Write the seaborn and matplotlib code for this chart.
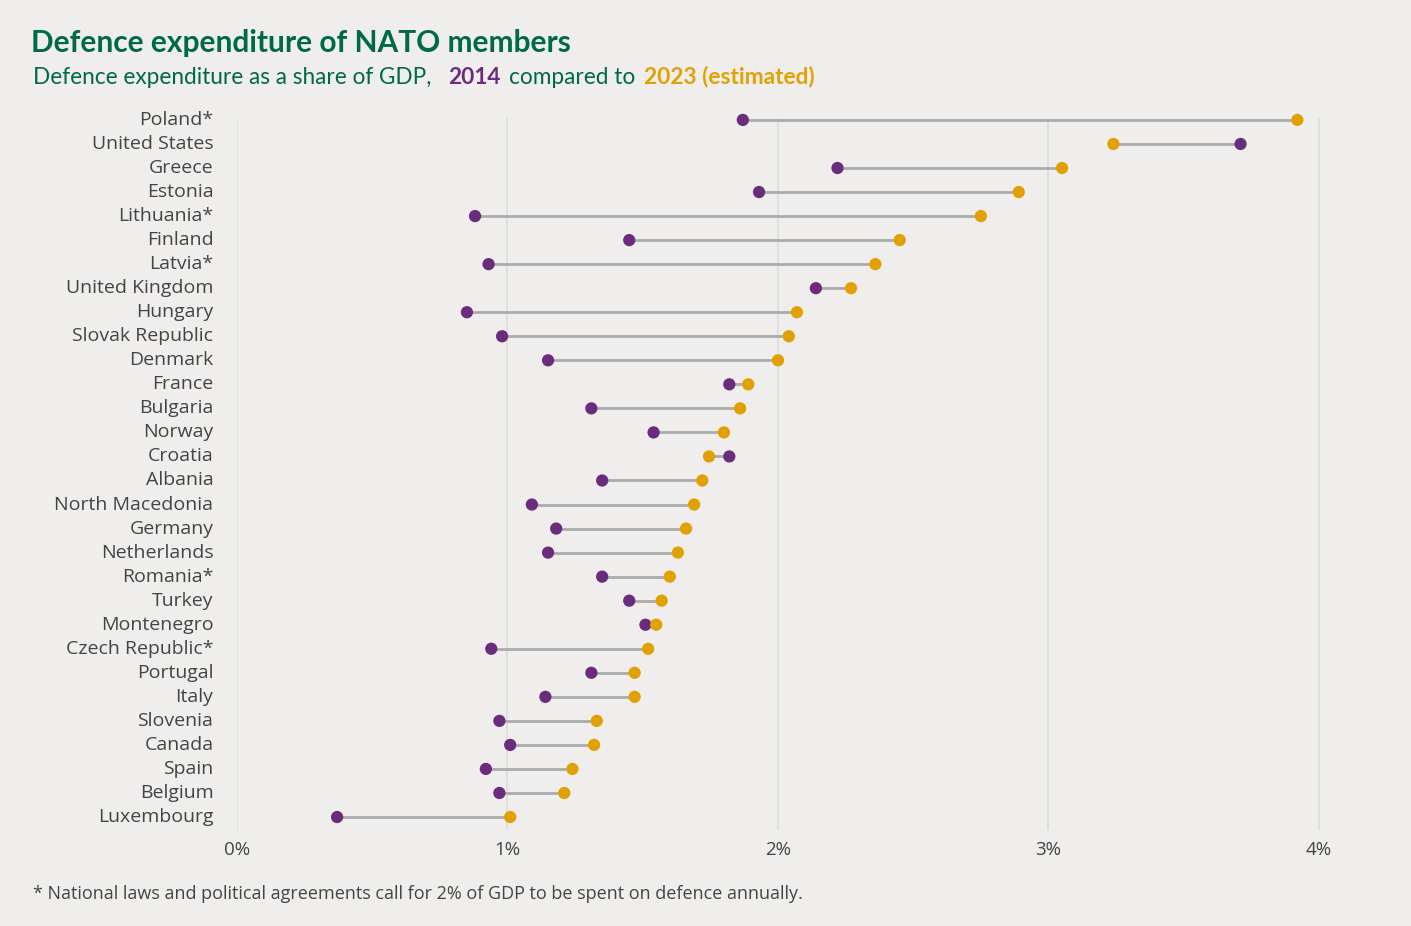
import matplotlib
matplotlib.use("Agg")
import matplotlib.pyplot as plt
import seaborn as sns
import pandas as pd

countries = ["Poland*", "United States", "Greece", "Estonia", "Lithuania*", "Finland",
             "Latvia*", "United Kingdom", "Hungary", "Slovak Republic", "Denmark", "France",
             "Bulgaria", "Norway", "Croatia", "Albania", "North Macedonia", "Germany",
             "Netherlands", "Romania*", "Turkey", "Montenegro", "Czech Republic*", "Portugal",
             "Italy", "Slovenia", "Canada", "Spain", "Belgium", "Luxembourg"]
share_2014 = [1.87, 3.71, 2.22, 1.93, 0.88, 1.45, 0.93, 2.14, 0.85, 0.98, 1.15, 1.82,
              1.31, 1.54, 1.82, 1.35, 1.09, 1.18, 1.15, 1.35, 1.45, 1.51, 0.94, 1.31,
              1.14, 0.97, 1.01, 0.92, 0.97, 0.37]
share_2023 = [3.92, 3.24, 3.05, 2.89, 2.75, 2.45, 2.36, 2.27, 2.07, 2.04, 2.00, 1.89,
              1.86, 1.80, 1.745, 1.72, 1.69, 1.66, 1.63, 1.60, 1.57, 1.55, 1.52, 1.47,
              1.47, 1.33, 1.32, 1.24, 1.21, 1.01]
x_ticks = [0, 1, 2, 3, 4]
x_tick_labels = ["0%", "1%", "2%", "3%", "4%"]

bg = "#EFEEEC"
green = "#00694A"
purple = "#6B2C7E"
orange = "#E2A102"
text_col = "#444444"

df = pd.DataFrame({"country": countries, "2014": share_2014, "2023": share_2023})
long = df.melt(id_vars="country", var_name="year", value_name="share")

sns.set_style("white")
plt.rcParams["font.family"] = ["Open Sans", "DejaVu Sans"]

fig = plt.figure(figsize=(14.11, 9.26), dpi=100, facecolor=bg)
ax = fig.add_axes([237 / 1411, 1 - 830 / 926, (1345 - 237) / 1411, (830 - 118) / 926])
ax.set_facecolor(bg)

ypos = list(range(len(countries)))
ax.hlines(ypos, df["2014"], df["2023"], color="#ABABAB", lw=2, zorder=2, clip_on=False)
sns.scatterplot(data=long, x="share", y="country", hue="year",
                palette={"2014": purple, "2023": orange}, s=78, edgecolor="none",
                legend=False, ax=ax, zorder=3, clip_on=False)

ax.set_xlim(0, (1345 - 237) / 270.5)
ax.set_ylim(len(countries) - 1 + 0.54, -0.08)
ax.set_xticks(x_ticks)
ax.set_xticklabels(x_tick_labels)
ax.xaxis.grid(True, color="#DCDCDA", lw=1.2, zorder=0)
ax.yaxis.grid(False)
for s in ax.spines.values():
    s.set_visible(False)
ax.tick_params(axis="y", length=0, pad=17, labelsize=14, labelcolor=text_col)
ax.tick_params(axis="x", length=0, pad=8, labelsize=13.5, labelcolor=text_col)
ax.set_xlabel("")
ax.set_ylabel("")
# labels sit a touch above the dots in the original
for lab in ax.get_yticklabels():
    lab.set_verticalalignment("center")
    lab.set_y(lab.get_position()[1])
ax.tick_params(axis="y", labelrotation=0)

fig.text(31 / 1411, 1 - 43 / 926, "Defence expenditure of NATO members", color=green,
         fontsize=21.5, fontweight="bold", family=["Lato", "DejaVu Sans"], va="center")

sub_kw = dict(fontsize=16.3, family=["Lato", "DejaVu Sans"])
t1 = fig.text(33 / 1411, 1 - 77 / 926, "Defence expenditure as a share of GDP,", color=green,
              va="center", **sub_kw)
t2 = ax.annotate("2014", xy=(1, 0), xycoords=t1, xytext=(12, 0), textcoords="offset points",
                 color=purple, fontweight="bold", va="bottom", ha="left",
                 annotation_clip=False, **sub_kw)
t3 = ax.annotate("compared to", xy=(1, 0), xycoords=t2, xytext=(6, 0), textcoords="offset points",
                 color=green, va="bottom", ha="left", annotation_clip=False, **sub_kw)
ax.annotate("2023 (estimated)", xy=(1, 0), xycoords=t3, xytext=(6, 0), textcoords="offset points",
            color=orange, fontweight="bold", va="bottom", ha="left",
            annotation_clip=False, **sub_kw)

fig.text(33 / 1411, 1 - 894 / 926,
         "* National laws and political agreements call for 2% of GDP to be spent on defence annually.",
         color=text_col, fontsize=13, va="center")

fig.savefig("out.png", dpi=100, facecolor=bg)
